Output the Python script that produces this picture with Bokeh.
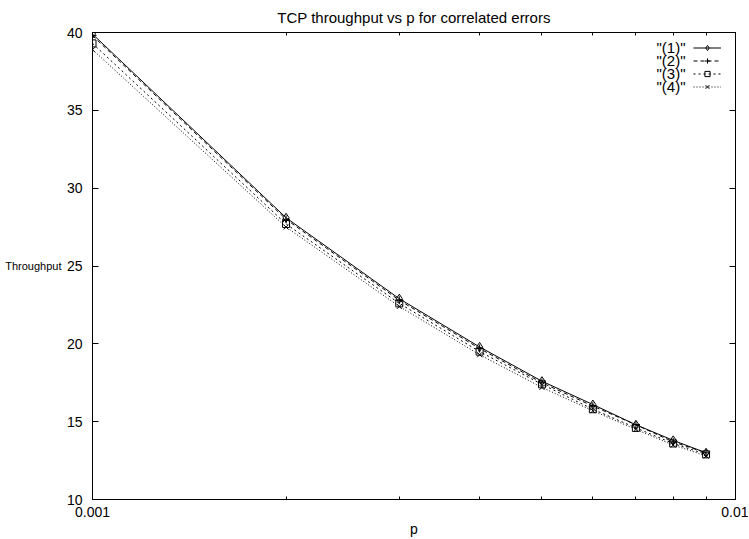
from bokeh.plotting import figure
from bokeh.models import (FixedTicker, LinearAxis, LogAxis, Label, Legend,
                          LegendItem, Range1d)
from bokeh.embed import file_html
from bokeh.resources import INLINE

# ---- data ----
p_values = [0.001, 0.002, 0.003, 0.004, 0.005, 0.006, 0.007, 0.008, 0.009]
series1 = [39.9, 28.1, 22.9, 19.8, 17.6, 16.1, 14.8, 13.8, 13.0]
series2 = [39.8, 28.0, 22.8, 19.7, 17.5, 16.0, 14.8, 13.7, 13.0]
series3 = [39.3, 27.7, 22.6, 19.5, 17.4, 15.8, 14.6, 13.6, 12.9]
series4 = [38.9, 27.5, 22.4, 19.3, 17.2, 15.7, 14.5, 13.5, 12.8]
series_names = ['"(1)"', '"(2)"', '"(3)"', '"(4)"']
x_major = [0.001, 0.01]
x_minor = [0.002, 0.003, 0.004, 0.005, 0.006, 0.007, 0.008, 0.009]
x_tick_labels = ["0.001", "0.01"]
y_ticks = [10, 15, 20, 25, 30, 35, 40]
y_label_pos = [25]

FONT = "Liberation Sans"
TICK_FS = "14px"

p = figure(width=748, height=539, x_axis_type="log",
           x_range=Range1d(0.001, 0.01), y_range=Range1d(10, 40),
           output_backend="svg", toolbar_location=None,
           min_border_left=92, min_border_right=13,
           min_border_top=32, min_border_bottom=39,
           title="TCP throughput vs p for correlated errors")
p.title.align = "center"
p.title.vertical_align = "top"
p.title.text_font = FONT
p.title.text_font_size = "15px"
p.title.text_font_style = "normal"
p.title.text_color = "black"
p.grid.visible = False
p.outline_line_color = "black"
p.outline_line_width = 1
p.background_fill_color = "white"
p.border_fill_color = "white"


def style_axis(ax):
    ax.axis_line_color = "black"
    ax.major_tick_line_color = "black"
    ax.minor_tick_line_color = "black"
    ax.major_tick_in = 6
    ax.major_tick_out = 0
    ax.minor_tick_in = 3
    ax.minor_tick_out = 0
    ax.major_label_text_font = FONT
    ax.major_label_text_font_size = TICK_FS
    ax.major_label_text_color = "black"


xa = p.xaxis[0]
xa.ticker = FixedTicker(ticks=x_major, minor_ticks=x_minor)
xa.major_label_overrides = {t: s for t, s in zip(x_major, x_tick_labels)}
style_axis(xa)
xa.major_label_standoff = 7
xa.axis_label = "p"
xa.axis_label_text_font = FONT
xa.axis_label_text_font_size = TICK_FS
xa.axis_label_text_font_style = "normal"
xa.axis_label_text_color = "black"
xa.axis_label_standoff = 1

ya = p.yaxis[0]
ya.ticker = FixedTicker(ticks=y_ticks)
style_axis(ya)
ya.minor_tick_line_color = None
ya.major_label_standoff = 10

# horizontal y-axis title, drawn as the single label of an extra bare axis
ylab = LinearAxis(ticker=FixedTicker(ticks=y_label_pos))
ylab.major_label_overrides = {y_label_pos[0]: "Throughput"}
ylab.axis_line_color = None
ylab.major_tick_line_color = None
ylab.minor_tick_line_color = None
ylab.major_tick_in = 0
ylab.major_tick_out = 0
ylab.major_label_standoff = 2
ylab.major_label_text_font = FONT
ylab.major_label_text_font_size = "11px"
ylab.major_label_text_color = "black"
p.add_layout(ylab, "left")

top = LogAxis(ticker=FixedTicker(ticks=x_major, minor_ticks=x_minor))
style_axis(top)
top.major_label_overrides = {t: "" for t in x_major}
top.major_label_text_font_size = "0px"
top.major_label_standoff = 0
p.add_layout(top, "above")

right = LinearAxis(ticker=FixedTicker(ticks=y_ticks))
style_axis(right)
right.minor_tick_line_color = None
right.major_label_overrides = {t: "" for t in y_ticks}
right.major_label_text_font_size = "0px"
right.major_label_standoff = 0
p.add_layout(right, "right")

all_series = [series1, series2, series3, series4]
dashes = ["solid", "4 3", "2 3", "1 2"]
markers = ["diamond", "cross", "square", "x"]
sizes = [9, 8, 7, 7]

items = []
for s, d, m, sz in zip(all_series, dashes, markers, sizes):
    ln = p.line(p_values, s, line_color="black", line_width=1, line_dash=d)
    sc = p.scatter(p_values, s, marker=m, size=sz, line_color="black",
                   fill_color=None, line_width=1)
    items.append(LegendItem(label=" ", renderers=[ln, sc]))

legend = Legend(items=items, location=(601, 406), orientation="vertical",
                glyph_width=28, glyph_height=13, label_height=13,
                label_width=1, label_standoff=0, spacing=0, padding=0,
                margin=0, border_line_alpha=0, background_fill_alpha=0,
                label_text_font_size="10px")
p.add_layout(legend, "center")

for i, name in enumerate(series_names):
    p.add_layout(Label(x=593, y=452 - 13 * i, x_units="screen",
                       y_units="screen", text=name, text_align="right",
                       text_baseline="middle", text_font=FONT,
                       text_font_size="15px", text_color="black"))

open("out.html", "w").write(file_html(p, INLINE))
